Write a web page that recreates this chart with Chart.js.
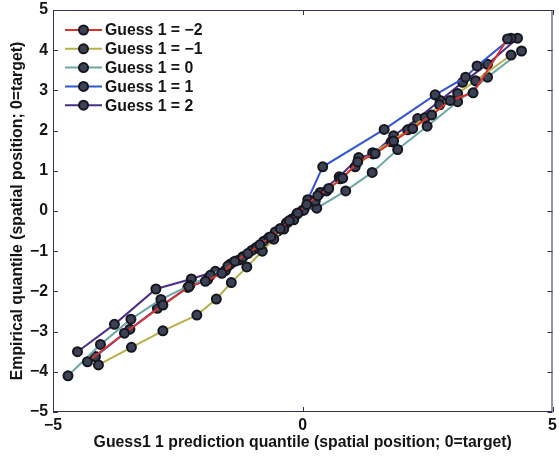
<!DOCTYPE html>
<html>
<head>
<meta charset="utf-8">
<script src="https://cdn.jsdelivr.net/npm/chart.js@4/dist/chart.umd.min.js"></script>
<style>
  html, body { margin:0; padding:0; background:#fff; }
  #wrap { width:559px; height:456px; position:relative; }
</style>
</head>
<body>
<div id="wrap"><canvas id="qq"></canvas></div>
<script>
/* quantile-quantile curves, one per Guess 1 value */
const seriesNames = ['Guess 1 = \u22122', 'Guess 1 = \u22121', 'Guess 1 = 0', 'Guess 1 = 1', 'Guess 1 = 2'];
const seriesColors = ['#d6342f', '#b6b04a', '#6ea8a6', '#3556d4', '#4b2e86'];

const xM2 = [-4.31,-3.57,-2.80,-2.28,-1.95,-1.62,-1.36,-1.10,-0.86,-0.64,-0.45,-0.27,-0.10,0.08,0.30,0.52,0.80,1.10,1.45,1.82,2.20,2.58,2.95,3.41,4.10];
const yM2 = [-3.75,-3.04,-2.34,-1.88,-1.75,-1.55,-1.25,-1.06,-0.84,-0.64,-0.44,-0.24,-0.05,0.16,0.38,0.56,0.82,1.22,1.43,1.74,2.05,2.39,2.75,2.94,4.28];

const xM1 = [-4.09,-3.43,-2.80,-2.12,-1.73,-1.43,-1.12,-0.81,-0.58,-0.38,-0.18,0.02,0.25,0.48,0.75,1.05,1.40,1.77,2.10,2.45,2.74,3.10,3.46,4.17];
const yM1 = [-3.83,-3.39,-2.98,-2.59,-2.19,-1.78,-1.39,-1.00,-0.70,-0.45,-0.22,0.02,0.25,0.50,0.80,1.10,1.45,1.72,2.02,2.32,2.64,2.92,3.24,3.88];

const x0 = [-4.70,-4.05,-3.44,-2.84,-2.26,-1.85,-1.50,-1.20,-0.92,-0.68,-0.45,-0.22,0.00,0.28,0.86,1.39,1.90,2.49,3.10,3.70,4.38];
const y0 = [-4.10,-3.32,-2.69,-2.20,-1.85,-1.60,-1.37,-1.15,-0.90,-0.66,-0.44,-0.20,0.02,0.07,0.50,0.96,1.53,2.11,2.72,3.33,3.98];

const xP1 = [-4.15,-3.46,-2.91,-2.30,-1.90,-1.55,-1.28,-1.02,-0.78,-0.55,-0.33,-0.12,0.10,0.40,1.63,2.65,3.26,3.49,4.17];
const yP1 = [-3.62,-2.94,-2.42,-1.90,-1.70,-1.48,-1.22,-0.98,-0.75,-0.52,-0.30,-0.08,0.28,1.10,2.03,2.89,3.33,3.61,4.30];

const xP2 = [-4.51,-3.77,-2.94,-2.23,-1.75,-1.45,-1.20,-0.95,-0.72,-0.50,-0.30,-0.10,0.13,0.35,0.73,1.12,1.41,1.82,2.30,2.75,3.20,3.70,4.30];
const yP2 = [-3.50,-2.82,-1.94,-1.69,-1.50,-1.32,-1.14,-0.93,-0.72,-0.50,-0.28,-0.06,0.27,0.46,0.85,1.33,1.42,1.87,2.30,2.75,3.20,3.65,4.30];

const xTicks = [-5, 0, 5];
const yTicks = [-5, -4, -3, -2, -1, 0, 1, 2, 3, 4, 5];
const xTitle = 'Guess1 1 prediction quantile (spatial position; 0=target)';
const yTitle = 'Empirical quantile (spatial position; 0=target)';

const FONT = 'bold 15.8px "Liberation Sans", Arial, sans-serif';
const INK = '#141414';
const fmt = v => (v < 0 ? '\u2212' + Math.abs(v) : String(v));

const zip = (xs, ys) => xs.map((x, i) => ({ x, y: ys[i] }));
const allX = [xM2, xM1, x0, xP1, xP2];
const allY = [yM2, yM1, y0, yP1, yP2];

const datasets = seriesNames.map((name, i) => ({
  label: name,
  data: zip(allX[i], allY[i]),
  showLine: true,
  borderColor: seriesColors[i],
  borderWidth: 2,
  pointRadius: 4.5,
  pointBorderWidth: 2,
  pointBackgroundColor: '#3c4254',
  pointBorderColor: '#15161f',
  tension: 0
}));

/* matlab-like frame: box, inward ticks, tick labels, titles, legend */
const framePlugin = {
  id: 'frame',
  afterDatasetsDraw(chart) {
    const { ctx, chartArea: a, scales: { x, y } } = chart;
    ctx.save();
    ctx.strokeStyle = '#2e3350';
    ctx.lineWidth = 1;
    ctx.strokeRect(a.left + 0.5, a.top + 0.5, a.right - a.left - 1, a.bottom - a.top - 1);

    const tl = 5;
    ctx.beginPath();
    yTicks.forEach(v => {
      const py = Math.round(y.getPixelForValue(v)) + 0.5;
      ctx.moveTo(a.left, py); ctx.lineTo(a.left + tl, py);
      ctx.moveTo(a.right, py); ctx.lineTo(a.right - tl, py);
    });
    xTicks.forEach(v => {
      const px = Math.round(x.getPixelForValue(v)) + 0.5;
      ctx.moveTo(px, a.bottom); ctx.lineTo(px, a.bottom - tl);
      ctx.moveTo(px, a.top); ctx.lineTo(px, a.top + tl);
    });
    ctx.stroke();

    ctx.fillStyle = INK;
    ctx.font = FONT;
    ctx.textBaseline = 'middle';
    ctx.textAlign = 'right';
    yTicks.forEach(v => ctx.fillText(fmt(v), a.left - 5, y.getPixelForValue(v)));
    ctx.textAlign = 'center';
    xTicks.forEach(v => ctx.fillText(fmt(v), x.getPixelForValue(v), a.bottom + 14));

    ctx.fillText(xTitle, x.getPixelForValue(0), a.bottom + 31);
    ctx.save();
    ctx.translate(18, y.getPixelForValue(0));
    ctx.rotate(-Math.PI / 2);
    ctx.fillText(yTitle, 0, 0);
    ctx.restore();

    // legend
    const lx = a.left + 12, ly = a.top + 20, row = 18.8;
    seriesNames.forEach((name, i) => {
      const cy = ly + i * row;
      ctx.strokeStyle = seriesColors[i];
      ctx.lineWidth = 2;
      ctx.beginPath();
      ctx.moveTo(lx, cy); ctx.lineTo(lx + 37, cy);
      ctx.stroke();
      ctx.beginPath();
      ctx.arc(lx + 18.5, cy, 4.5, 0, Math.PI * 2);
      ctx.fillStyle = '#3c4254';
      ctx.fill();
      ctx.strokeStyle = '#15161f';
      ctx.stroke();
      ctx.fillStyle = INK;
      ctx.textAlign = 'left';
      ctx.fillText(name, lx + 40, cy + 1);
    });
    ctx.restore();
  }
};

const hiddenAxis = (lo, hi) => ({
  type: 'linear', min: lo, max: hi,
  grid: { display: false, drawTicks: false },
  border: { display: false },
  ticks: { display: false },
  afterFit: s => { s.width = 0; s.height = 0; s.paddingLeft = s.paddingRight = s.paddingTop = s.paddingBottom = 0; }
});

new Chart(document.getElementById('qq'), {
  type: 'scatter',
  data: { datasets },
  options: {
    responsive: true,
    maintainAspectRatio: false,
    animation: false,
    layout: { padding: { left: 53, right: 2, top: 10, bottom: 44 } },
    scales: { x: hiddenAxis(-5, 5), y: hiddenAxis(-5, 5) },
    plugins: { legend: { display: false }, tooltip: { enabled: false } },
    clip: false
  },
  plugins: [framePlugin]
});
</script>
</body>
</html>
